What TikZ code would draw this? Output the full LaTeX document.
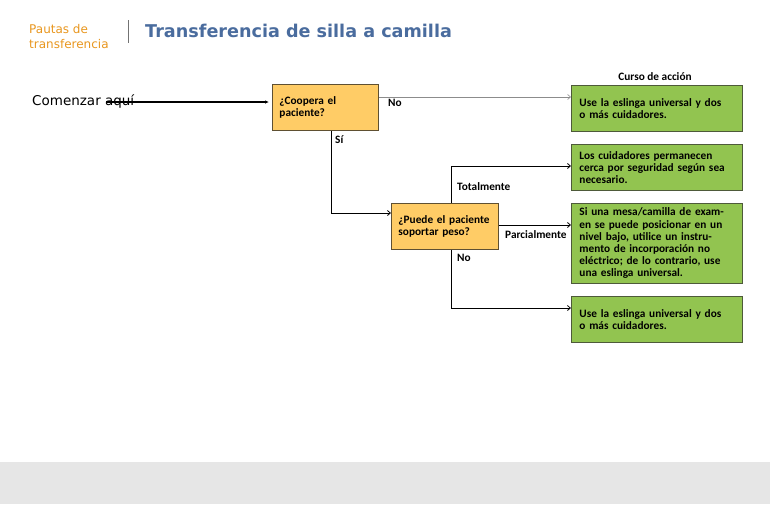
\documentclass[tikz,border=0pt]{standalone}
\usepackage{fontspec}
\setmainfont{Carlito}
\newfontfamily\verd{DejaVu Sans}
\usetikzlibrary{arrows.meta}
\definecolor{titleblue}{RGB}{74,108,158}
\definecolor{pauta}{RGB}{232,150,30}
\definecolor{qfill}{RGB}{255,204,102}
\definecolor{qdraw}{RGB}{95,80,50}
\definecolor{afill}{RGB}{146,196,80}
\definecolor{adraw}{RGB}{78,90,58}
\definecolor{band}{RGB}{230,230,230}
\tikzset{
  bfont/.style={font=\bfseries\fontsize{11.3}{12.2}\selectfont},
  qbox/.style={draw=qdraw, line width=0.9pt, fill=qfill, anchor=north west, align=left,
    text width=92pt, inner xsep=7pt, inner ysep=0pt, minimum height=46pt, bfont},
  abox/.style={draw=adraw, line width=0.9pt, fill=afill, anchor=north west, align=left,
    text width=155pt, inner xsep=8pt, inner ysep=0pt, minimum height=46pt, bfont},
  lbl/.style={anchor=west, inner sep=0pt, bfont},
  conn/.style={draw=black, line width=0.8pt, -{Straight Barb[length=3pt,width=5pt]}},
  connthin/.style={draw=black!45, line width=0.6pt, -{Straight Barb[length=3pt,width=5pt]}}
}
\begin{document}
\begin{tikzpicture}[x=1pt,y=-1pt]
\useasboundingbox (0,0) rectangle (770,504);
\fill[band] (0,462) rectangle (770,504);
% header
\node[anchor=north west, inner sep=0pt, align=left, text=pauta, font=\verd\fontsize{12}{15}\selectfont] (pautas) at (29,24) {Pautas de\\transferencia};
\draw[black!55, line width=0.6pt] (128,20) -- (128,43);
\node[anchor=west, inner sep=0pt, text=titleblue, font=\verd\bfseries\fontsize{17.6}{20}\selectfont] (title) at (145,31) {Transferencia de silla a camilla};
% start
\node[anchor=west, inner sep=0pt, font=\verd\fontsize{13.5}{16}\selectfont] (start) at (32,102) {Comenzar aquí};
\coordinate (s) at (106,102);
% questions
\node[qbox, text width=92pt] (q1) at (272,84) {¿Coopera el\\paciente?};
\node[qbox, text width=93pt] (q2) at (391,203) {¿Puede el paciente\\soportar peso?};
% actions
\node[anchor=center, inner sep=0pt, bfont] (curso) at (655,77) {Curso de acción};
\node[abox] (a1) at (571,85) {Use la eslinga universal y dos\\o más cuidadores.};
\node[abox] (a2) at (571,144) {Los cuidadores permanecen\\cerca por seguridad según sea\\necesario.};
\node[abox, minimum height=80pt] (a3) at (571,203) {Si una mesa/camilla de exam-\\en se puede posicionar en un\\nivel bajo, utilice un instru-\\mento de incorporación no\\eléctrico; de lo contrario, use\\una eslinga universal.};
\node[abox] (a4) at (571,296) {Use la eslinga universal y dos\\o más cuidadores.};
% labels
\node[lbl] (lno1) at (388,103) {No};
\node[lbl] (lsi) at (335,140) {Sí};
\node[lbl] (ltot) at (457,187) {Totalmente};
\node[lbl] (lpar) at (505,235) {Parcialmente};
\node[lbl] (lno2) at (457,258) {No};
% connectors
\draw[draw=black, line width=1.1pt, -{Latex[length=4pt,width=3.5pt]}] (s) -- ([xshift=-3pt]q1.west |- s);
\draw[connthin] (q1.east |- 0,97) -- (a1.west |- 0,97);
\draw[conn] (q1.south -| 331,0) |- (q2.west |- 0,213);
\draw[conn] (q2.north -| 451,0) |- (a2.west |- 0,166);
\draw[conn] (q2.east |- 0,225) -- (a3.west |- 0,225);
\draw[conn] (q2.south -| 451,0) |- (a4.west |- 0,308);
\end{tikzpicture}
\end{document}
